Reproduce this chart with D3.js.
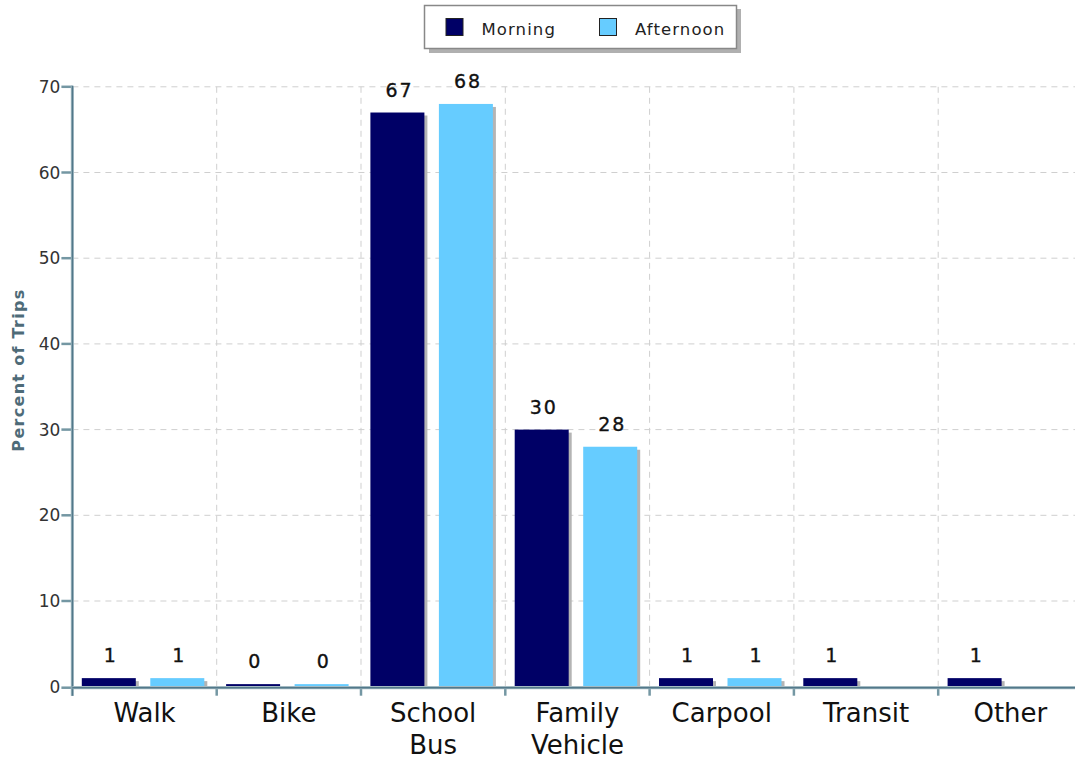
<!DOCTYPE html>
<html>
<head>
<meta charset="utf-8">
<script src="https://cdn.jsdelivr.net/npm/d3@7"></script>
<style>
  html, body { margin: 0; padding: 0; background: #fff; }
  svg { display: block; font-family: "DejaVu Sans", sans-serif; }
</style>
</head>
<body>
<svg id="chart" width="1075" height="761"></svg>
<script>
// ---- data ----
const categories = ["Walk", "Bike", "School Bus", "Family Vehicle", "Carpool", "Transit", "Other"];
const categoryLines = [["Walk"], ["Bike"], ["School", "Bus"], ["Family", "Vehicle"], ["Carpool"], ["Transit"], ["Other"]];
const series = ["Morning", "Afternoon"];
const morning = [1, 0.3, 67, 30, 1, 1, 1];
const afternoon = [1, 0.3, 68, 28, 1, null, null];
const yTicks = [0, 10, 20, 30, 40, 50, 60, 70];
const colors = ["#000066", "#66ccff"];

// ---- layout ----
const W = 1075, H = 761;
const axisX = 72.4, plotRight = 1082.5, plotTop = 86.8, plotBottom = 686.7;
const svg = d3.select("#chart");
svg.append("rect").attr("width", W).attr("height", H).attr("fill", "#fff");

const x0 = d3.scaleBand().domain(categories).range([axisX, plotRight]).paddingInner(0).paddingOuter(0);
const barW = 54, gap = 14.5, groupLeft = 9.4;
const x1 = d3.scaleBand().domain(series).range([groupLeft, groupLeft + 2 * barW + gap])
  .paddingInner(gap / (barW + gap)).paddingOuter(0);
const y = d3.scaleLinear().domain([0, 70]).range([plotBottom, plotTop]);

svg.append("defs").append("clipPath").attr("id", "pc")
  .append("rect").attr("x", 0).attr("y", 0).attr("width", W).attr("height", H);

const plot = svg.append("g").attr("clip-path", "url(#pc)");

// horizontal gridlines
plot.append("g").selectAll("line").data(yTicks.filter(d => d > 0)).join("line")
  .attr("x1", axisX).attr("x2", W)
  .attr("y1", d => y(d)).attr("y2", d => y(d))
  .attr("stroke", "#cfcfcf").attr("stroke-width", 1).attr("stroke-dasharray", "6,5");

// vertical gridlines at category boundaries
plot.append("g").selectAll("line").data(categories.slice(1)).join("line")
  .attr("x1", d => x0(d)).attr("x2", d => x0(d))
  .attr("y1", plotTop).attr("y2", plotBottom)
  .attr("stroke", "#cfcfcf").attr("stroke-width", 1).attr("stroke-dasharray", "6,5");

// bars
const rows = categories.map((c, i) => ({ c, vals: [morning[i], afternoon[i]] }));
const groups = plot.append("g").selectAll("g").data(rows).join("g")
  .attr("transform", d => `translate(${x0(d.c)},0)`);

const items = d => d.vals.map((v, j) => ({ s: series[j], v, j })).filter(e => e.v !== null);

// shadows
groups.selectAll("rect.sh").data(items).join("rect").attr("class", "sh")
  .attr("x", e => x1(e.s) + 3).attr("width", x1.bandwidth())
  .attr("y", e => y(e.v) + 3).attr("height", e => Math.max(0, plotBottom - y(e.v) - 3))
  .attr("fill", "#b4b4b4");
groups.selectAll("rect.bar").data(items).join("rect").attr("class", "bar")
  .attr("x", e => x1(e.s)).attr("width", x1.bandwidth())
  .attr("y", e => y(e.v)).attr("height", e => plotBottom - y(e.v))
  .attr("fill", e => colors[e.j]);

// value labels
const fmt = d3.format(".0f");
groups.selectAll("text.val").data(items).join("text").attr("class", "val")
  .attr("x", e => x1(e.s) + x1.bandwidth() / 2 + 2)
  .attr("y", e => y(e.v) - 16)
  .attr("text-anchor", "middle")
  .attr("font-size", 19).attr("letter-spacing", "1.8px")
  .attr("fill", "#111").attr("stroke", "#111").attr("stroke-width", 0.35)
  .text(e => fmt(e.v));

// axes
const axisG = svg.append("g");
const axisColor = "#7497a3", axisDark = "#52788a";
const axisY = plotBottom + 1;
// x ticks at category boundaries
axisG.selectAll("line.xt").data(categories).join("line").attr("class", "xt")
  .attr("x1", d => x0(d)).attr("x2", d => x0(d))
  .attr("y1", axisY).attr("y2", axisY + 8)
  .attr("stroke", axisColor).attr("stroke-width", 2.5);
// y ticks
axisG.selectAll("line.yt").data(yTicks).join("line").attr("class", "yt")
  .attr("x1", axisX - 11).attr("x2", axisX)
  .attr("y1", d => d === 0 ? axisY : y(d)).attr("y2", d => d === 0 ? axisY : y(d))
  .attr("stroke", axisColor).attr("stroke-width", 2.5);
// axis lines
[[axisX, plotTop - 1, axisX, axisY + 8], [axisX, axisY, W, axisY]].forEach(([a, b, c, d]) => {
  axisG.append("line").attr("x1", a).attr("y1", b).attr("x2", c).attr("y2", d)
    .attr("stroke", "#a3bac2").attr("stroke-width", 3.2);
  axisG.append("line").attr("x1", a).attr("y1", b).attr("x2", c).attr("y2", d)
    .attr("stroke", axisDark).attr("stroke-width", 1.4);
});

// y tick labels
axisG.selectAll("text.yl").data(yTicks).join("text").attr("class", "yl")
  .attr("x", axisX - 12).attr("y", d => y(d)).attr("dy", "0.36em")
  .attr("text-anchor", "end").attr("font-size", 17).attr("fill", "#333")
  .text(d => d);

// category labels
const cl = axisG.selectAll("text.cl").data(categories).join("text").attr("class", "cl")
  .attr("x", d => x0(d) + x0.bandwidth() / 2).attr("y", 721.5)
  .attr("text-anchor", "middle").attr("font-size", 26).attr("fill", "#111");
cl.selectAll("tspan").data((d, i) => categoryLines[i]).join("tspan")
  .attr("x", function () { return d3.select(this.parentNode).attr("x"); })
  .attr("dy", (d, i) => i === 0 ? 0 : 32)
  .text(d => d);

// y axis title
svg.append("text")
  .attr("transform", "translate(24,370) rotate(-90)")
  .attr("text-anchor", "middle").attr("font-size", 16).attr("font-weight", "bold")
  .attr("letter-spacing", "1.3px").attr("fill", "#4e6b78")
  .text("Percent of Trips");

// legend
const lg = svg.append("g");
lg.append("rect").attr("x", 429).attr("y", 9).attr("width", 312).attr("height", 44).attr("fill", "#b0b0b0");
lg.append("rect").attr("x", 424.5).attr("y", 5.5).attr("width", 312).attr("height", 43)
  .attr("fill", "#fff").attr("stroke", "#888").attr("stroke-width", 1.5);
const legX = [446, 599.5];
const li = lg.selectAll("g.li").data(series).join("g").attr("class", "li")
  .attr("transform", (d, i) => `translate(${legX[i]},18.5)`);
li.append("rect").attr("width", 17).attr("height", 17)
  .attr("fill", (d, i) => colors[i]).attr("stroke", "#222").attr("stroke-width", 1);
li.append("text").attr("x", 35.5).attr("y", 16)
  .attr("font-size", 16.5).attr("letter-spacing", "1.1px").attr("fill", "#222")
  .text(d => d);
</script>
</body>
</html>
